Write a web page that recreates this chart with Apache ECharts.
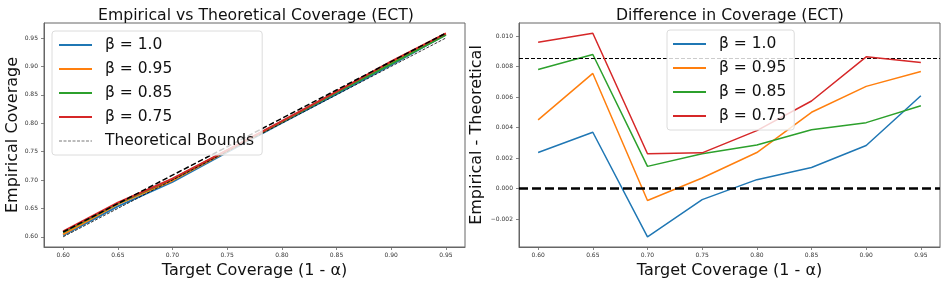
<!DOCTYPE html>
<html>
<head>
<meta charset="utf-8">
<script src="https://cdn.jsdelivr.net/npm/echarts@6/dist/echarts.min.js"></script>
<style>
html,body{margin:0;padding:0;background:#fff;}
#chart{width:947px;height:284px;}
</style>
</head>
<body>
<div id="chart"></div>
<script>
// ---- data ----
const target = [0.60, 0.65, 0.70, 0.75, 0.80, 0.85, 0.90, 0.95];
const betaNames = ['β = 1.0', 'β = 0.95', 'β = 0.85', 'β = 0.75'];
// empirical coverage (left panel)
const emp_b100 = [0.6024, 0.6537, 0.6968, 0.7493, 0.8006, 0.8514, 0.9028, 0.9561];
const emp_b095 = [0.6045, 0.6576, 0.6992, 0.7507, 0.8024, 0.8550, 0.9067, 0.9577];
const emp_b085 = [0.6078, 0.6588, 0.7015, 0.7523, 0.8029, 0.8539, 0.9043, 0.9554];
const emp_b075 = [0.6096, 0.6602, 0.7023, 0.7524, 0.8038, 0.8558, 0.9087, 0.9583];
const lowerBound = [0.60, 0.65, 0.70, 0.75, 0.80, 0.85, 0.90, 0.95];
const upperBound = [0.6085, 0.6585, 0.7085, 0.7585, 0.8085, 0.8585, 0.9085, 0.9585];
// difference empirical - theoretical (right panel)
const diff_b100 = [0.00237, 0.00370, -0.00316, -0.00072, 0.00059, 0.00139, 0.00283, 0.00610];
const diff_b095 = [0.00451, 0.00756, -0.00078, 0.00070, 0.00237, 0.00501, 0.00671, 0.00769];
const diff_b085 = [0.00782, 0.00880, 0.00146, 0.00229, 0.00286, 0.00386, 0.00433, 0.00544];
const diff_b075 = [0.00961, 0.01020, 0.00229, 0.00235, 0.00381, 0.00575, 0.00865, 0.00828];
const diffBoundLine = 0.00854;
const zeroLine = 0.0;
// tick labels
const xTicks = [0.60, 0.65, 0.70, 0.75, 0.80, 0.85, 0.90, 0.95];
const yTicksLeft = [0.60, 0.65, 0.70, 0.75, 0.80, 0.85, 0.90, 0.95];
const yTicksRight = [-0.002, 0.000, 0.002, 0.004, 0.006, 0.008, 0.010];

const colors = ['#1f77b4', '#ff7f0e', '#2ca02c', '#d62728'];
const FONT = 'DejaVu Sans';
const pairs = (xs, ys) => xs.map((x, i) => [x, ys[i]]);
const fmtMinus = (v, d) => (v < 0 ? '\u2212' : '') + Math.abs(v).toFixed(d);

const axisCommon = {
  type: 'value',
  splitLine: {show: false},
  axisLine: {show: true, onZero: false, lineStyle: {color: '#666', width: 1}},
  axisTick: {show: true, length: 3, lineStyle: {color: '#666', width: 0.8}},
  nameTextStyle: {fontFamily: FONT, fontSize: 16, color: '#111'},
  nameLocation: 'middle'
};

function xAxis(gridIndex) {
  return Object.assign({}, axisCommon, {
    gridIndex, min: 0.5825, max: 0.9675,
    name: 'Target Coverage (1 - α)', nameGap: 14,
    axisTick: Object.assign({}, axisCommon.axisTick, {customValues: xTicks}),
    axisLabel: {customValues: xTicks, fontFamily: FONT, fontSize: 6, color: '#333', margin: 5,
      formatter: v => v.toFixed(2)}
  });
}

const yLeft = Object.assign({}, axisCommon, {
  gridIndex: 0, min: 0.5821, max: 0.9764,
  name: 'Empirical Coverage', nameGap: 17,
  axisTick: Object.assign({}, axisCommon.axisTick, {customValues: yTicksLeft}),
  axisLabel: {customValues: yTicksLeft, fontFamily: FONT, fontSize: 6, color: '#333', margin: 6,
    formatter: v => v.toFixed(2)}
});
const yRight = Object.assign({}, axisCommon, {
  gridIndex: 1, min: -0.00383, max: 0.01087,
  name: 'Empirical - Theoretical', nameGap: 34,
  axisTick: Object.assign({}, axisCommon.axisTick, {customValues: yTicksRight}),
  axisLabel: {customValues: yTicksRight, fontFamily: FONT, fontSize: 6, color: '#333', margin: 6,
    formatter: v => fmtMinus(v, 3)}
});

const empArrays = [emp_b100, emp_b095, emp_b085, emp_b075];
const diffArrays = [diff_b100, diff_b095, diff_b085, diff_b075];

const series = [];
empArrays.forEach((arr, i) => {
  series.push({type: 'line', name: betaNames[i], xAxisIndex: 0, yAxisIndex: 0,
    data: pairs(target, arr), symbol: 'none', color: colors[i],
    itemStyle: {opacity: 0},
    lineStyle: {color: colors[i], width: 2}, z: 2 + i});
});
series.push({type: 'line', name: 'Theoretical Bounds', xAxisIndex: 0, yAxisIndex: 0,
  data: pairs(target, lowerBound), symbol: 'none', color: '#000',
  itemStyle: {opacity: 0},
  lineStyle: {color: '#000', width: 0.8, type: [3, 1.5]}, z: 7});
series.push({type: 'line', name: 'upper', xAxisIndex: 0, yAxisIndex: 0,
  data: pairs(target, upperBound), symbol: 'none', color: '#000',
  itemStyle: {opacity: 0},
  lineStyle: {color: '#000', width: 1.5, type: [5.5, 2.5]}, z: 8});
diffArrays.forEach((arr, i) => {
  series.push({type: 'line', name: betaNames[i], xAxisIndex: 1, yAxisIndex: 1,
    data: pairs(target, arr), symbol: 'none', color: colors[i],
    itemStyle: {opacity: 0},
    lineStyle: {color: colors[i], width: 1.5}, z: 2 + i,
    markLine: i === 0 ? {
      silent: true, symbol: 'none', label: {show: false}, precision: 6,
      data: [
        {yAxis: diffBoundLine, lineStyle: {color: '#000', width: 1.2, type: [4, 2]}},
        {yAxis: zeroLine, lineStyle: {color: '#000', width: 2.5, type: [9, 4]}}
      ]
    } : undefined});
});

const legendCommon = {
  orient: 'vertical',
  itemWidth: 33, itemHeight: 14, itemGap: 8,
  backgroundColor: 'rgba(255,255,255,0.8)',
  borderColor: '#dcdcdc', borderWidth: 1, borderRadius: 3,
  textStyle: {fontFamily: FONT, fontSize: 15.5, color: '#111', padding: [0, 0, 0, 8]},
  itemStyle: {opacity: 0},
  selectedMode: false,
  z: 20
};

const leftLegendData = betaNames.map(n => ({name: n})).concat([
  {name: 'Theoretical Bounds', lineStyle: {width: 0.8, color: '#555', type: [3, 1.5]}}
]);

const option = {
  animation: false,
  backgroundColor: '#fff',
  title: [
    {text: 'Empirical vs Theoretical Coverage (ECT)', left: 251, top: 3, textAlign: 'center',
      textStyle: {fontFamily: FONT, fontSize: 15.7, fontWeight: 'normal', color: '#111'}},
    {text: 'Difference in Coverage (ECT)', left: 725, top: 3, textAlign: 'center',
      textStyle: {fontFamily: FONT, fontSize: 15.7, fontWeight: 'normal', color: '#111'}}
  ],
  grid: [
    {left: 44, top: 23, width: 421, height: 224, show: true, borderColor: '#666', borderWidth: 1, backgroundColor: 'transparent'},
    {left: 519, top: 23, width: 421, height: 224, show: true, borderColor: '#666', borderWidth: 1, backgroundColor: 'transparent'}
  ],
  xAxis: [xAxis(0), xAxis(1)],
  yAxis: [yLeft, yRight],
  legend: [
    Object.assign({}, legendCommon, {left: 52, top: 31, padding: [6, 8, 6, 6],
      data: leftLegendData}),
    Object.assign({}, legendCommon, {left: 667, top: 30, padding: [6, 8, 6, 5],
      data: betaNames})
  ],
  series
};

const chart = echarts.init(document.getElementById('chart'), null, {renderer: 'canvas'});
chart.setOption(option);
</script>
</body>
</html>
